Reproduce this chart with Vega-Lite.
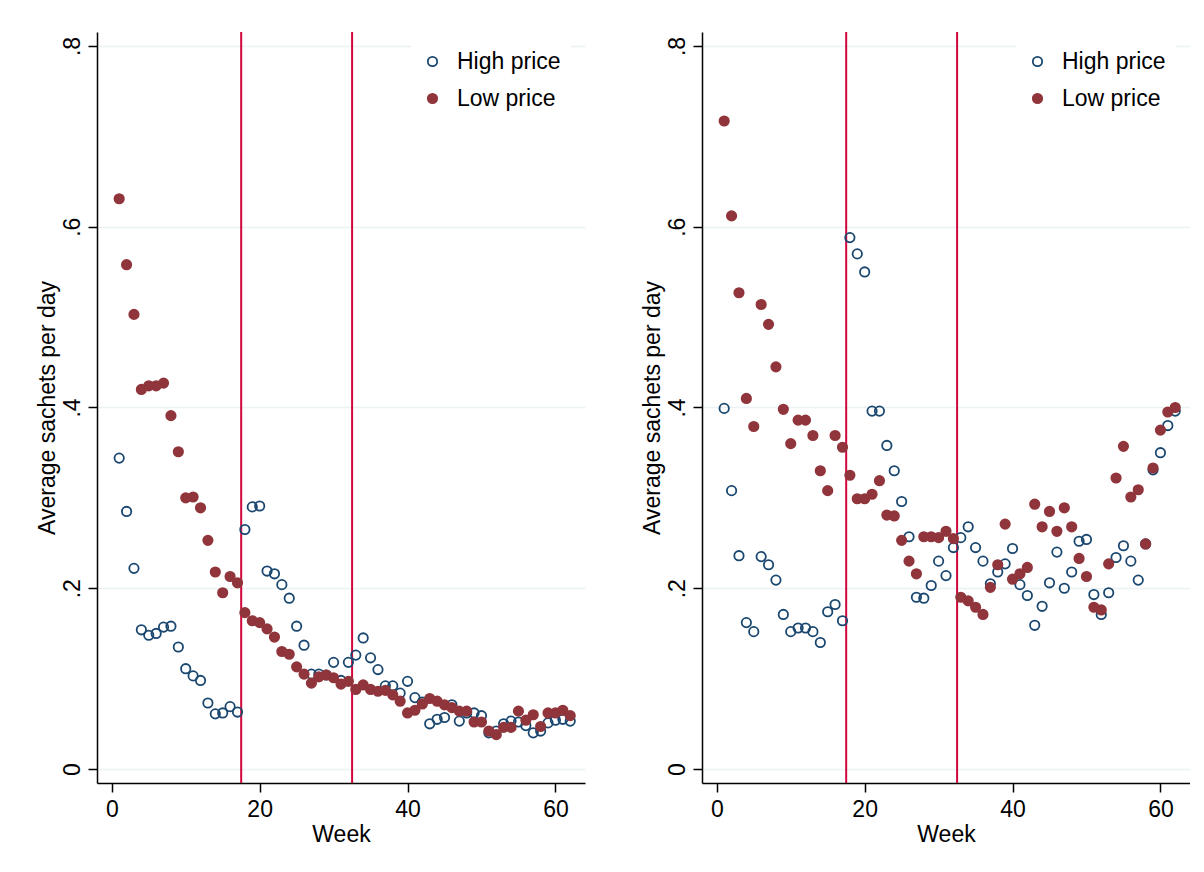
{
  "$schema": "https://vega.github.io/schema/vega-lite/v6.json",
  "padding": {"left": 36, "top": 31, "right": 0, "bottom": 0},
  "background": "white",
  "datasets": {
    "pts": [
      {"panel":"A","group":"High price","week":1,"sachets":0.344},{"panel":"A","group":"High price","week":2,"sachets":0.285},{"panel":"A","group":"High price","week":3,"sachets":0.222},{"panel":"A","group":"High price","week":4,"sachets":0.154},{"panel":"A","group":"High price","week":5,"sachets":0.148},{"panel":"A","group":"High price","week":6,"sachets":0.150},{"panel":"A","group":"High price","week":7,"sachets":0.157},{"panel":"A","group":"High price","week":8,"sachets":0.158},{"panel":"A","group":"High price","week":9,"sachets":0.135},{"panel":"A","group":"High price","week":10,"sachets":0.111},{"panel":"A","group":"High price","week":11,"sachets":0.103},{"panel":"A","group":"High price","week":12,"sachets":0.098},{"panel":"A","group":"High price","week":13,"sachets":0.073},{"panel":"A","group":"High price","week":14,"sachets":0.061},{"panel":"A","group":"High price","week":15,"sachets":0.062},{"panel":"A","group":"High price","week":16,"sachets":0.069},{"panel":"A","group":"High price","week":17,"sachets":0.063},{"panel":"A","group":"High price","week":18,"sachets":0.265},{"panel":"A","group":"High price","week":19,"sachets":0.290},{"panel":"A","group":"High price","week":20,"sachets":0.291},{"panel":"A","group":"High price","week":21,"sachets":0.219},{"panel":"A","group":"High price","week":22,"sachets":0.216},{"panel":"A","group":"High price","week":23,"sachets":0.204},{"panel":"A","group":"High price","week":24,"sachets":0.189},{"panel":"A","group":"High price","week":25,"sachets":0.158},{"panel":"A","group":"High price","week":26,"sachets":0.137},{"panel":"A","group":"High price","week":27,"sachets":0.105},{"panel":"A","group":"High price","week":28,"sachets":0.105},{"panel":"A","group":"High price","week":29,"sachets":0.104},{"panel":"A","group":"High price","week":30,"sachets":0.118},{"panel":"A","group":"High price","week":31,"sachets":0.098},{"panel":"A","group":"High price","week":32,"sachets":0.118},{"panel":"A","group":"High price","week":33,"sachets":0.126},{"panel":"A","group":"High price","week":34,"sachets":0.145},{"panel":"A","group":"High price","week":35,"sachets":0.123},{"panel":"A","group":"High price","week":36,"sachets":0.110},{"panel":"A","group":"High price","week":37,"sachets":0.092},{"panel":"A","group":"High price","week":38,"sachets":0.092},{"panel":"A","group":"High price","week":39,"sachets":0.084},{"panel":"A","group":"High price","week":40,"sachets":0.097},{"panel":"A","group":"High price","week":41,"sachets":0.079},{"panel":"A","group":"High price","week":42,"sachets":0.074},{"panel":"A","group":"High price","week":43,"sachets":0.050},{"panel":"A","group":"High price","week":44,"sachets":0.055},{"panel":"A","group":"High price","week":45,"sachets":0.057},{"panel":"A","group":"High price","week":46,"sachets":0.071},{"panel":"A","group":"High price","week":47,"sachets":0.053},{"panel":"A","group":"High price","week":48,"sachets":0.062},{"panel":"A","group":"High price","week":49,"sachets":0.062},{"panel":"A","group":"High price","week":50,"sachets":0.059},{"panel":"A","group":"High price","week":51,"sachets":0.040},{"panel":"A","group":"High price","week":52,"sachets":0.042},{"panel":"A","group":"High price","week":53,"sachets":0.050},{"panel":"A","group":"High price","week":54,"sachets":0.053},{"panel":"A","group":"High price","week":55,"sachets":0.052},{"panel":"A","group":"High price","week":56,"sachets":0.048},{"panel":"A","group":"High price","week":57,"sachets":0.040},{"panel":"A","group":"High price","week":58,"sachets":0.042},{"panel":"A","group":"High price","week":59,"sachets":0.051},{"panel":"A","group":"High price","week":60,"sachets":0.054},{"panel":"A","group":"High price","week":61,"sachets":0.055},{"panel":"A","group":"High price","week":62,"sachets":0.053},
      {"panel":"A","group":"Low price","week":1,"sachets":0.631},{"panel":"A","group":"Low price","week":2,"sachets":0.558},{"panel":"A","group":"Low price","week":3,"sachets":0.503},{"panel":"A","group":"Low price","week":4,"sachets":0.420},{"panel":"A","group":"Low price","week":5,"sachets":0.424},{"panel":"A","group":"Low price","week":6,"sachets":0.424},{"panel":"A","group":"Low price","week":7,"sachets":0.427},{"panel":"A","group":"Low price","week":8,"sachets":0.391},{"panel":"A","group":"Low price","week":9,"sachets":0.351},{"panel":"A","group":"Low price","week":10,"sachets":0.300},{"panel":"A","group":"Low price","week":11,"sachets":0.301},{"panel":"A","group":"Low price","week":12,"sachets":0.289},{"panel":"A","group":"Low price","week":13,"sachets":0.253},{"panel":"A","group":"Low price","week":14,"sachets":0.218},{"panel":"A","group":"Low price","week":15,"sachets":0.195},{"panel":"A","group":"Low price","week":16,"sachets":0.213},{"panel":"A","group":"Low price","week":17,"sachets":0.206},{"panel":"A","group":"Low price","week":18,"sachets":0.173},{"panel":"A","group":"Low price","week":19,"sachets":0.164},{"panel":"A","group":"Low price","week":20,"sachets":0.162},{"panel":"A","group":"Low price","week":21,"sachets":0.155},{"panel":"A","group":"Low price","week":22,"sachets":0.146},{"panel":"A","group":"Low price","week":23,"sachets":0.130},{"panel":"A","group":"Low price","week":24,"sachets":0.127},{"panel":"A","group":"Low price","week":25,"sachets":0.113},{"panel":"A","group":"Low price","week":26,"sachets":0.105},{"panel":"A","group":"Low price","week":27,"sachets":0.095},{"panel":"A","group":"Low price","week":28,"sachets":0.102},{"panel":"A","group":"Low price","week":29,"sachets":0.104},{"panel":"A","group":"Low price","week":30,"sachets":0.101},{"panel":"A","group":"Low price","week":31,"sachets":0.094},{"panel":"A","group":"Low price","week":32,"sachets":0.097},{"panel":"A","group":"Low price","week":33,"sachets":0.088},{"panel":"A","group":"Low price","week":34,"sachets":0.093},{"panel":"A","group":"Low price","week":35,"sachets":0.088},{"panel":"A","group":"Low price","week":36,"sachets":0.086},{"panel":"A","group":"Low price","week":37,"sachets":0.087},{"panel":"A","group":"Low price","week":38,"sachets":0.082},{"panel":"A","group":"Low price","week":39,"sachets":0.075},{"panel":"A","group":"Low price","week":40,"sachets":0.062},{"panel":"A","group":"Low price","week":41,"sachets":0.065},{"panel":"A","group":"Low price","week":42,"sachets":0.072},{"panel":"A","group":"Low price","week":43,"sachets":0.078},{"panel":"A","group":"Low price","week":44,"sachets":0.075},{"panel":"A","group":"Low price","week":45,"sachets":0.071},{"panel":"A","group":"Low price","week":46,"sachets":0.068},{"panel":"A","group":"Low price","week":47,"sachets":0.064},{"panel":"A","group":"Low price","week":48,"sachets":0.064},{"panel":"A","group":"Low price","week":49,"sachets":0.052},{"panel":"A","group":"Low price","week":50,"sachets":0.052},{"panel":"A","group":"Low price","week":51,"sachets":0.042},{"panel":"A","group":"Low price","week":52,"sachets":0.038},{"panel":"A","group":"Low price","week":53,"sachets":0.046},{"panel":"A","group":"Low price","week":54,"sachets":0.046},{"panel":"A","group":"Low price","week":55,"sachets":0.064},{"panel":"A","group":"Low price","week":56,"sachets":0.054},{"panel":"A","group":"Low price","week":57,"sachets":0.060},{"panel":"A","group":"Low price","week":58,"sachets":0.047},{"panel":"A","group":"Low price","week":59,"sachets":0.062},{"panel":"A","group":"Low price","week":60,"sachets":0.062},{"panel":"A","group":"Low price","week":61,"sachets":0.065},{"panel":"A","group":"Low price","week":62,"sachets":0.059},
      {"panel":"B","group":"High price","week":1,"sachets":0.399},{"panel":"B","group":"High price","week":2,"sachets":0.308},{"panel":"B","group":"High price","week":3,"sachets":0.236},{"panel":"B","group":"High price","week":4,"sachets":0.162},{"panel":"B","group":"High price","week":5,"sachets":0.152},{"panel":"B","group":"High price","week":6,"sachets":0.235},{"panel":"B","group":"High price","week":7,"sachets":0.226},{"panel":"B","group":"High price","week":8,"sachets":0.209},{"panel":"B","group":"High price","week":9,"sachets":0.171},{"panel":"B","group":"High price","week":10,"sachets":0.152},{"panel":"B","group":"High price","week":11,"sachets":0.156},{"panel":"B","group":"High price","week":12,"sachets":0.156},{"panel":"B","group":"High price","week":13,"sachets":0.152},{"panel":"B","group":"High price","week":14,"sachets":0.140},{"panel":"B","group":"High price","week":15,"sachets":0.174},{"panel":"B","group":"High price","week":16,"sachets":0.182},{"panel":"B","group":"High price","week":17,"sachets":0.164},{"panel":"B","group":"High price","week":18,"sachets":0.588},{"panel":"B","group":"High price","week":19,"sachets":0.570},{"panel":"B","group":"High price","week":20,"sachets":0.550},{"panel":"B","group":"High price","week":21,"sachets":0.396},{"panel":"B","group":"High price","week":22,"sachets":0.396},{"panel":"B","group":"High price","week":23,"sachets":0.358},{"panel":"B","group":"High price","week":24,"sachets":0.330},{"panel":"B","group":"High price","week":25,"sachets":0.296},{"panel":"B","group":"High price","week":26,"sachets":0.257},{"panel":"B","group":"High price","week":27,"sachets":0.190},{"panel":"B","group":"High price","week":28,"sachets":0.189},{"panel":"B","group":"High price","week":29,"sachets":0.203},{"panel":"B","group":"High price","week":30,"sachets":0.230},{"panel":"B","group":"High price","week":31,"sachets":0.214},{"panel":"B","group":"High price","week":32,"sachets":0.245},{"panel":"B","group":"High price","week":33,"sachets":0.256},{"panel":"B","group":"High price","week":34,"sachets":0.268},{"panel":"B","group":"High price","week":35,"sachets":0.245},{"panel":"B","group":"High price","week":36,"sachets":0.230},{"panel":"B","group":"High price","week":37,"sachets":0.205},{"panel":"B","group":"High price","week":38,"sachets":0.218},{"panel":"B","group":"High price","week":39,"sachets":0.227},{"panel":"B","group":"High price","week":40,"sachets":0.244},{"panel":"B","group":"High price","week":41,"sachets":0.204},{"panel":"B","group":"High price","week":42,"sachets":0.192},{"panel":"B","group":"High price","week":43,"sachets":0.159},{"panel":"B","group":"High price","week":44,"sachets":0.180},{"panel":"B","group":"High price","week":45,"sachets":0.206},{"panel":"B","group":"High price","week":46,"sachets":0.240},{"panel":"B","group":"High price","week":47,"sachets":0.200},{"panel":"B","group":"High price","week":48,"sachets":0.218},{"panel":"B","group":"High price","week":49,"sachets":0.252},{"panel":"B","group":"High price","week":50,"sachets":0.254},{"panel":"B","group":"High price","week":51,"sachets":0.193},{"panel":"B","group":"High price","week":52,"sachets":0.171},{"panel":"B","group":"High price","week":53,"sachets":0.195},{"panel":"B","group":"High price","week":54,"sachets":0.234},{"panel":"B","group":"High price","week":55,"sachets":0.247},{"panel":"B","group":"High price","week":56,"sachets":0.230},{"panel":"B","group":"High price","week":57,"sachets":0.209},{"panel":"B","group":"High price","week":58,"sachets":0.249},{"panel":"B","group":"High price","week":59,"sachets":0.331},{"panel":"B","group":"High price","week":60,"sachets":0.350},{"panel":"B","group":"High price","week":61,"sachets":0.380},{"panel":"B","group":"High price","week":62,"sachets":0.396},
      {"panel":"B","group":"Low price","week":1,"sachets":0.717},{"panel":"B","group":"Low price","week":2,"sachets":0.612},{"panel":"B","group":"Low price","week":3,"sachets":0.527},{"panel":"B","group":"Low price","week":4,"sachets":0.410},{"panel":"B","group":"Low price","week":5,"sachets":0.379},{"panel":"B","group":"Low price","week":6,"sachets":0.514},{"panel":"B","group":"Low price","week":7,"sachets":0.492},{"panel":"B","group":"Low price","week":8,"sachets":0.445},{"panel":"B","group":"Low price","week":9,"sachets":0.398},{"panel":"B","group":"Low price","week":10,"sachets":0.360},{"panel":"B","group":"Low price","week":11,"sachets":0.386},{"panel":"B","group":"Low price","week":12,"sachets":0.386},{"panel":"B","group":"Low price","week":13,"sachets":0.369},{"panel":"B","group":"Low price","week":14,"sachets":0.330},{"panel":"B","group":"Low price","week":15,"sachets":0.308},{"panel":"B","group":"Low price","week":16,"sachets":0.369},{"panel":"B","group":"Low price","week":17,"sachets":0.356},{"panel":"B","group":"Low price","week":18,"sachets":0.325},{"panel":"B","group":"Low price","week":19,"sachets":0.299},{"panel":"B","group":"Low price","week":20,"sachets":0.299},{"panel":"B","group":"Low price","week":21,"sachets":0.304},{"panel":"B","group":"Low price","week":22,"sachets":0.319},{"panel":"B","group":"Low price","week":23,"sachets":0.281},{"panel":"B","group":"Low price","week":24,"sachets":0.280},{"panel":"B","group":"Low price","week":25,"sachets":0.253},{"panel":"B","group":"Low price","week":26,"sachets":0.230},{"panel":"B","group":"Low price","week":27,"sachets":0.216},{"panel":"B","group":"Low price","week":28,"sachets":0.257},{"panel":"B","group":"Low price","week":29,"sachets":0.257},{"panel":"B","group":"Low price","week":30,"sachets":0.256},{"panel":"B","group":"Low price","week":31,"sachets":0.263},{"panel":"B","group":"Low price","week":32,"sachets":0.255},{"panel":"B","group":"Low price","week":33,"sachets":0.190},{"panel":"B","group":"Low price","week":34,"sachets":0.186},{"panel":"B","group":"Low price","week":35,"sachets":0.179},{"panel":"B","group":"Low price","week":36,"sachets":0.171},{"panel":"B","group":"Low price","week":37,"sachets":0.201},{"panel":"B","group":"Low price","week":38,"sachets":0.226},{"panel":"B","group":"Low price","week":39,"sachets":0.271},{"panel":"B","group":"Low price","week":40,"sachets":0.210},{"panel":"B","group":"Low price","week":41,"sachets":0.216},{"panel":"B","group":"Low price","week":42,"sachets":0.223},{"panel":"B","group":"Low price","week":43,"sachets":0.293},{"panel":"B","group":"Low price","week":44,"sachets":0.268},{"panel":"B","group":"Low price","week":45,"sachets":0.285},{"panel":"B","group":"Low price","week":46,"sachets":0.263},{"panel":"B","group":"Low price","week":47,"sachets":0.289},{"panel":"B","group":"Low price","week":48,"sachets":0.268},{"panel":"B","group":"Low price","week":49,"sachets":0.233},{"panel":"B","group":"Low price","week":50,"sachets":0.213},{"panel":"B","group":"Low price","week":51,"sachets":0.179},{"panel":"B","group":"Low price","week":52,"sachets":0.176},{"panel":"B","group":"Low price","week":53,"sachets":0.227},{"panel":"B","group":"Low price","week":54,"sachets":0.322},{"panel":"B","group":"Low price","week":55,"sachets":0.357},{"panel":"B","group":"Low price","week":56,"sachets":0.301},{"panel":"B","group":"Low price","week":57,"sachets":0.309},{"panel":"B","group":"Low price","week":58,"sachets":0.249},{"panel":"B","group":"Low price","week":59,"sachets":0.333},{"panel":"B","group":"Low price","week":60,"sachets":0.375},{"panel":"B","group":"Low price","week":61,"sachets":0.395},{"panel":"B","group":"Low price","week":62,"sachets":0.400}
    ],
    "cuts": [{"cut": 17.5}, {"cut": 32.5}]
  },
  "spacing": 56,
  "resolve": {
    "scale": {"stroke": "independent", "fill": "independent"},
    "legend": {"stroke": "independent", "fill": "independent"}
  },
  "hconcat": [
    {
      "width": 488, "height": 751,
      "layer": [
        {
          "data": {"name": "cuts"},
          "mark": {"type": "rule", "color": "#d0063c", "strokeWidth": 2},
          "encoding": {
            "x": {"field": "cut", "type": "quantitative", "scale": {"domain": [-2, 64], "nice": false, "zero": false}}
          }
        },
        {
          "data": {"name": "pts"},
          "transform": [{"filter": "datum.panel == 'A'"}],
          "mark": {"type": "point", "shape": "circle", "size": 88, "strokeWidth": 1.8, "opacity": 1},
          "encoding": {
            "x": {"field": "week", "type": "quantitative", "scale": {"domain": [-2, 64], "nice": false, "zero": false}, "axis": {"title": "Week", "values": [0, 20, 40, 60]}},
            "y": {"field": "sachets", "type": "quantitative", "scale": {"domain": [-0.0155, 0.8155], "nice": false, "zero": false}, "axis": {"title": "Average sachets per day", "values": [0, 0.2, 0.4, 0.6, 0.8]}},
            "stroke": {"field": "group", "type": "nominal", "scale": {"domain": ["High price", "Low price"], "range": ["#1a476f", "#90353b"]}, "legend": {"title": null}},
            "fill": {"field": "group", "type": "nominal", "scale": {"domain": ["High price", "Low price"], "range": ["transparent", "#90353b"]}, "legend": {"title": null}}
          }
        }
      ]
    },
    {
      "width": 488, "height": 751,
      "layer": [
        {
          "data": {"name": "cuts"},
          "mark": {"type": "rule", "color": "#d0063c", "strokeWidth": 2},
          "encoding": {
            "x": {"field": "cut", "type": "quantitative", "scale": {"domain": [-2, 64], "nice": false, "zero": false}}
          }
        },
        {
          "data": {"name": "pts"},
          "transform": [{"filter": "datum.panel == 'B'"}],
          "mark": {"type": "point", "shape": "circle", "size": 88, "strokeWidth": 1.8, "opacity": 1},
          "encoding": {
            "x": {"field": "week", "type": "quantitative", "scale": {"domain": [-2, 64], "nice": false, "zero": false}, "axis": {"title": "Week", "values": [0, 20, 40, 60]}},
            "y": {"field": "sachets", "type": "quantitative", "scale": {"domain": [-0.0155, 0.8155], "nice": false, "zero": false}, "axis": {"title": "Average sachets per day", "values": [0, 0.2, 0.4, 0.6, 0.8]}},
            "stroke": {"field": "group", "type": "nominal", "scale": {"domain": ["High price", "Low price"], "range": ["#1a476f", "#90353b"]}, "legend": {"title": null}},
            "fill": {"field": "group", "type": "nominal", "scale": {"domain": ["High price", "Low price"], "range": ["transparent", "#90353b"]}, "legend": {"title": null}}
          }
        }
      ]
    }
  ],
  "config": {
    "font": "Liberation Sans",
    "view": {"stroke": null},
    "axis": {
      "domainColor": "#000000", "domainWidth": 1.5,
      "tickColor": "#000000", "tickWidth": 1.5, "tickSize": 9,
      "labelColor": "#000000", "labelFontSize": 23, "labelFont": "Liberation Sans",
      "titleColor": "#000000", "titleFontSize": 23, "titleFontWeight": "normal", "titleFont": "Liberation Sans",
      "labelFlush": false, "labelOverlap": false
    },
    "axisX": {"grid": false, "labelPadding": 6, "titlePadding": 2, "labelBaseline": "top"},
    "axisY": {
      "grid": true, "gridColor": "#eaf2f3", "gridWidth": 1.5,
      "labelAngle": 270, "labelAlign": "center", "labelBaseline": "alphabetic", "labelPadding": 9,
      "titleAngle": 270, "titleBaseline": "alphabetic", "titlePadding": 7,
      "labelExpr": "datum.value == 0 ? '0' : replace(format(datum.value, '.1f'), '0.', '.')"
    },
    "legend": {
      "orient": "none", "legendX": 314, "legendY": 8, "fillColor": "white", "padding": 10,
      "labelFontSize": 23, "labelFont": "Liberation Sans", "labelColor": "#000000", "labelOffset": 13,
      "symbolSize": 88, "symbolStrokeWidth": 1.8, "symbolType": "circle", "rowPadding": 13
    }
  }
}
